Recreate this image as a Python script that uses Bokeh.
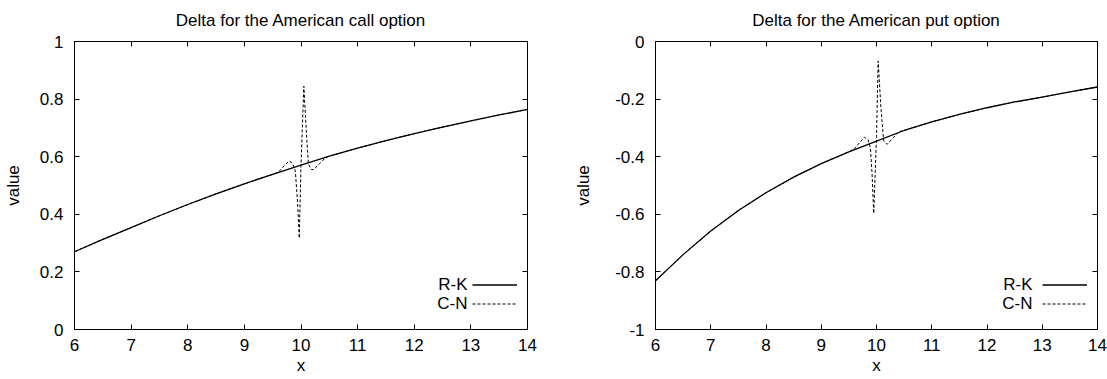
from bokeh.plotting import figure
from bokeh.layouts import row
from bokeh.models import (LinearAxis, FixedTicker, CustomJSTickFormatter, Label,
                          Legend, LegendItem, Range1d, CustomLabelingPolicy)
from bokeh.embed import file_html
from bokeh.resources import INLINE

# ---------------- data ----------------
x_ticks = [6, 7, 8, 9, 10, 11, 12, 13, 14]
call_y_ticks = [0, 0.2, 0.4, 0.6, 0.8, 1]
put_y_ticks = [-1, -0.8, -0.6, -0.4, -0.2, 0]

rk_x = [6, 6.5, 7, 7.5, 8, 8.5, 9, 9.5, 10, 10.5, 11, 11.5, 12, 12.5, 13, 13.5, 14]
call_rk = [0.27, 0.313, 0.354, 0.395, 0.434, 0.471, 0.506, 0.539, 0.571, 0.602,
           0.63, 0.656, 0.68, 0.703, 0.724, 0.745, 0.764]
put_rk = [-0.831, -0.74, -0.658, -0.587, -0.525, -0.471, -0.424, -0.383, -0.346,
          -0.309, -0.279, -0.253, -0.23, -0.21, -0.193, -0.175, -0.158]

call_cn_x = [6, 6.5, 7, 7.5, 8, 8.5, 9, 9.5, 9.6, 9.7, 9.79, 9.85, 9.9, 9.94, 9.97,
             10.0, 10.05, 10.09, 10.13, 10.18, 10.22, 10.3, 10.42, 10.5,
             11, 11.5, 12, 12.5, 13, 13.5, 14]
call_cn = [0.27, 0.313, 0.354, 0.395, 0.434, 0.471, 0.506, 0.539, 0.546, 0.568, 0.585,
           0.578, 0.55, 0.44, 0.317, 0.57, 0.845, 0.70, 0.575, 0.556, 0.555, 0.57,
           0.594, 0.602, 0.63, 0.656, 0.68, 0.703, 0.724, 0.745, 0.764]

put_cn_x = [6, 6.5, 7, 7.5, 8, 8.5, 9, 9.5, 9.6, 9.7, 9.78, 9.85, 9.89, 9.92, 9.95,
            10.0, 10.03, 10.08, 10.13, 10.19, 10.3, 10.4, 10.5,
            11, 11.5, 12, 12.5, 13, 13.5, 14]
put_cn = [-0.831, -0.74, -0.658, -0.587, -0.525, -0.471, -0.424, -0.383, -0.372, -0.35,
          -0.332, -0.342, -0.37, -0.46, -0.597, -0.33, -0.068, -0.23, -0.345, -0.357,
          -0.335, -0.313, -0.309, -0.279, -0.253, -0.23, -0.21, -0.193, -0.175, -0.158]

FONT = "Liberation Sans"
FS = "17px"
H = 379
TOP, BOTTOM = 41, 50


def make_panel(title, xr, yr_rk, xc, yr_cn, yticks, width, bl, br, ylab_standoff,
               leg_x, text_x):
    p = figure(width=width, height=H, output_backend="svg", toolbar_location=None,
               x_range=Range1d(6, 14), y_range=Range1d(yticks[0], yticks[-1]),
               min_border_left=bl, min_border_right=br, min_border_top=TOP,
               min_border_bottom=BOTTOM, title=title)
    p.title.text_font = FONT
    p.title.text_font_size = FS
    p.title.text_font_style = "normal"
    p.title.text_color = "black"
    p.title.align = "center"
    p.title.standoff = 16
    p.xgrid.visible = False
    p.ygrid.visible = False
    p.outline_line_color = "black"
    p.outline_line_alpha = 1
    p.outline_line_width = 1
    p.background_fill_color = "white"
    p.border_fill_color = "white"

    fmt = CustomJSTickFormatter(code="return String(Math.round(tick*10)/10)")
    xt = FixedTicker(ticks=x_ticks)
    yt = FixedTicker(ticks=yticks)

    for ax, t in ((p.xaxis[0], xt), (p.yaxis[0], yt)):
        ax.ticker = t
        ax.formatter = fmt
        ax.major_tick_in = 5
        ax.major_tick_out = 0
        ax.minor_tick_line_color = None
        ax.axis_line_color = "black"
        ax.major_tick_line_color = "black"
        ax.major_label_text_font = FONT
        ax.major_label_text_font_size = FS
        ax.major_label_text_color = "black"
        ax.axis_label_text_font = FONT
        ax.axis_label_text_font_size = FS
        ax.axis_label_text_font_style = "normal"
        ax.axis_label_text_color = "black"
    p.xaxis[0].axis_label = "x"
    p.xaxis[0].major_label_standoff = 9
    p.xaxis[0].axis_label_standoff = 2
    p.yaxis[0].axis_label = "value"
    p.yaxis[0].major_label_standoff = 11
    p.yaxis[0].axis_label_standoff = ylab_standoff

    # mirror ticks on top / right (no labels)
    for side, t in (("above", xt), ("right", yt)):
        ax = LinearAxis(ticker=t, major_tick_in=5, major_tick_out=0,
                        minor_tick_line_color=None, major_label_text_font_size="1px",
                        major_label_standoff=0, axis_line_color="black",
                        major_tick_line_color="black",
                        major_label_policy=CustomLabelingPolicy(code="return []"))
        p.add_layout(ax, side)

    rk = p.line(xr, yr_rk, line_color="black", line_width=1.3)
    cn = p.line(xc, yr_cn, line_color="black", line_width=1, line_dash="3 2")

    leg = Legend(items=[LegendItem(label="", renderers=[rk]),
                        LegendItem(label="", renderers=[cn])],
                 location=(leg_x, 16), glyph_width=45, glyph_height=19, spacing=0,
                 padding=0, margin=0, label_standoff=0, label_width=0, label_height=19,
                 label_text_font_size="8px", border_line_color=None,
                 background_fill_alpha=0)
    p.add_layout(leg)
    for txt, yy in (("R-K", 45), ("C-N", 26)):
        p.add_layout(Label(x=text_x, y=yy, x_units="screen", y_units="screen",
                           text=txt, text_align="right", text_baseline="middle",
                           text_font=FONT, text_font_size=FS, text_color="black"))
    return p


p1 = make_panel("Delta for the American call option", rk_x, call_rk, call_cn_x, call_cn,
                call_y_ticks, 570, 74, 43, 14, 398, 393)
p2 = make_panel("Delta for the American put option", rk_x, put_rk, put_cn_x, put_cn,
                put_y_ticks, 537, 85, 10, 19, 387, 377)

layout = row(p1, p2)
open("out.html", "w").write(file_html(layout, INLINE))
